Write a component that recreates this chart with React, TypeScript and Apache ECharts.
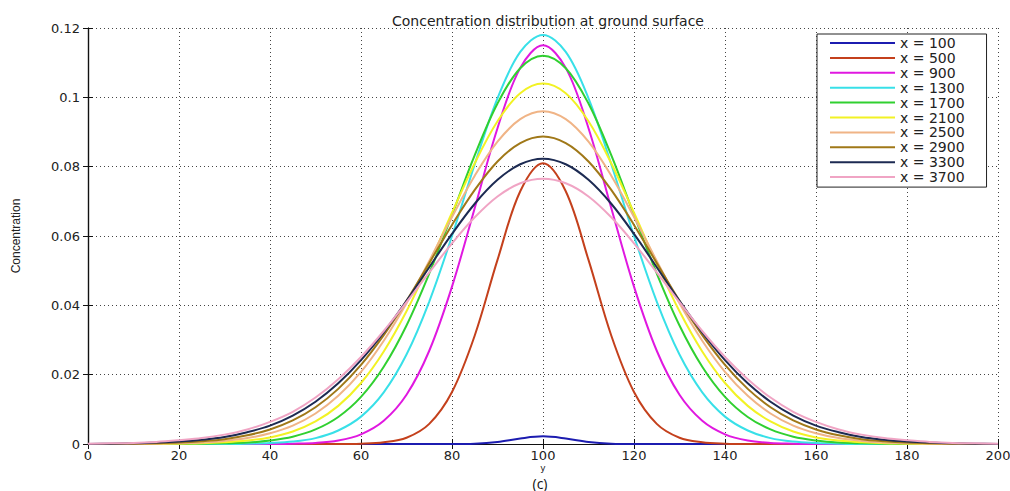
import React, { useEffect, useRef } from "react";
import * as echarts from "echarts";

const X_VALUES = [0,5,10,15,20,25,30,35,40,45,50,55,60,65,70,75,80,85,90,95,100,105,110,115,120,125,130,135,140,145,150,155,160,165,170,175,180,185,190,195,200];

const SERIES_NAMES = ["x = 100","x = 500","x = 900","x = 1300","x = 1700","x = 2100","x = 2500","x = 2900","x = 3300","x = 3700"];

const SERIES_COLORS = ["#1c1cb0","#c4401c","#e018e0","#38e0e8","#30d030","#f2f224","#f0b486","#a07818","#1c2a52","#f0a4c4"];

const C100 = [0,0,0,0,0,0,0,0,0,0,0,0,0,0,0,0,0,0.0001,0.0006,0.0016,0.0022,0.0016,0.0006,0.0001,0,0,0,0,0,0,0,0,0,0,0,0,0,0,0,0,0];
const C500 = [0,0,0,0,0,0,0,0,0,0,0,0,0.0001,0.0005,0.0018,0.0058,0.0150,0.0313,0.0531,0.0729,0.0810,0.0729,0.0531,0.0313,0.0150,0.0058,0.0018,0.0005,0.0001,0,0,0,0,0,0,0,0,0,0,0,0];
const C900 = [0,0,0,0,0,0,0,0,0,0.0001,0.0003,0.0010,0.0028,0.0067,0.0142,0.0269,0.0454,0.0681,0.0911,0.1085,0.1150,0.1085,0.0911,0.0681,0.0454,0.0269,0.0142,0.0067,0.0028,0.0010,0.0003,0.0001,0,0,0,0,0,0,0,0,0];
const C1300 = [0,0,0,0,0,0,0,0.0001,0.0003,0.0007,0.0017,0.0039,0.0079,0.0149,0.0258,0.0411,0.0600,0.0807,0.0997,0.1131,0.1180,0.1131,0.0997,0.0807,0.0600,0.0411,0.0258,0.0149,0.0079,0.0039,0.0017,0.0007,0.0003,0.0001,0,0,0,0,0,0,0];
const C1700 = [0,0,0,0,0,0.0001,0.0002,0.0004,0.0010,0.0021,0.0042,0.0078,0.0136,0.0223,0.0342,0.0492,0.0661,0.0833,0.0982,0.1084,0.1120,0.1084,0.0982,0.0833,0.0661,0.0492,0.0342,0.0223,0.0136,0.0078,0.0042,0.0021,0.0010,0.0004,0.0002,0.0001,0,0,0,0,0];
const C2100 = [0,0,0,0,0.0001,0.0002,0.0005,0.0010,0.0019,0.0036,0.0065,0.0110,0.0176,0.0267,0.0383,0.0520,0.0667,0.0810,0.0931,0.1012,0.1040,0.1012,0.0931,0.0810,0.0667,0.0520,0.0383,0.0267,0.0176,0.0110,0.0065,0.0036,0.0019,0.0010,0.0005,0.0002,0.0001,0,0,0,0];
const C2500 = [0,0,0,0.0001,0.0002,0.0004,0.0009,0.0017,0.0031,0.0053,0.0088,0.0139,0.0208,0.0298,0.0406,0.0528,0.0655,0.0774,0.0872,0.0937,0.0960,0.0937,0.0872,0.0774,0.0655,0.0528,0.0406,0.0298,0.0208,0.0139,0.0088,0.0053,0.0031,0.0017,0.0009,0.0004,0.0002,0.0001,0,0,0];
const C2900 = [0,0,0.0001,0.0002,0.0004,0.0008,0.0014,0.0025,0.0042,0.0068,0.0106,0.0159,0.0228,0.0314,0.0413,0.0522,0.0632,0.0733,0.0815,0.0868,0.0887,0.0868,0.0815,0.0733,0.0632,0.0522,0.0413,0.0314,0.0228,0.0159,0.0106,0.0068,0.0042,0.0025,0.0014,0.0008,0.0004,0.0002,0.0001,0,0];
const C3300 = [0,0.0001,0.0002,0.0004,0.0007,0.0012,0.0020,0.0034,0.0053,0.0082,0.0122,0.0175,0.0242,0.0322,0.0413,0.0510,0.0606,0.0693,0.0762,0.0807,0.0823,0.0807,0.0762,0.0693,0.0606,0.0510,0.0413,0.0322,0.0242,0.0175,0.0122,0.0082,0.0053,0.0034,0.0020,0.0012,0.0007,0.0004,0.0002,0.0001,0];
const C3700 = [0.0001,0.0002,0.0003,0.0006,0.0011,0.0017,0.0027,0.0042,0.0064,0.0093,0.0134,0.0187,0.0251,0.0326,0.0409,0.0495,0.0579,0.0654,0.0714,0.0752,0.0765,0.0752,0.0714,0.0654,0.0579,0.0495,0.0409,0.0326,0.0251,0.0187,0.0134,0.0093,0.0064,0.0042,0.0027,0.0017,0.0011,0.0006,0.0003,0.0002,0.0001];

const SERIES_VALUES = [C100, C500, C900, C1300, C1700, C2100, C2500, C2900, C3300, C3700];

const X_MIN = 0;
const X_MAX = 200;
const X_STEP = 20;
const Y_MIN = 0;
const Y_MAX = 0.12;
const Y_STEP = 0.02;

const FONT = "DejaVu Sans";

export default function App() {
  const ref = useRef<HTMLDivElement>(null);
  useEffect(() => {
    if (!ref.current) return;
    const chart = echarts.init(ref.current, null, { renderer: "svg" });
    const gridLine = { show: true, lineStyle: { type: [1, 3] as any, color: "#444", width: 1 } };
    const tick = { show: true, inside: true, length: 5, lineStyle: { color: "#111" } };
    const axisLine = { show: true, lineStyle: { color: "#111", width: 1.2 } };
    chart.setOption({
      animation: false,
      backgroundColor: "#ffffff",
      title: {
        text: "Concentration distribution at ground surface",
        left: 387,
        top: 9,
        textStyle: { fontFamily: FONT, fontSize: 14, fontWeight: "normal", color: "#222" },
      },
      grid: { left: 88, right: 12, top: 28, bottom: 47, outerBoundsMode: "none" } as any,
      legend: {
        orient: "vertical",
        left: 817,
        top: 34,
        data: SERIES_NAMES,
        icon: "rect",
        backgroundColor: "#ffffff",
        borderColor: "#222",
        borderWidth: 1,
        borderRadius: 0,
        padding: [2, 22, 3, 13],
        itemWidth: 65,
        itemHeight: 2,
        itemGap: 0.9,
        textStyle: { fontFamily: FONT, fontSize: 14, color: "#222", lineHeight: 14 },
      },
      xAxis: [
        {
          type: "value",
          min: X_MIN,
          max: X_MAX,
          interval: X_STEP,
          name: "y",
          nameLocation: "middle",
          nameGap: 19,
          nameMoveOverlap: false,
          nameTextStyle: { fontFamily: FONT, fontSize: 9, color: "#222", lineHeight: 9, padding: 0 },
          axisLine,
          axisTick: tick,
          axisLabel: { fontFamily: FONT, fontSize: 13, color: "#222", margin: 5 },
          splitLine: gridLine,
        },
        {
          type: "value",
          position: "top",
          min: X_MIN,
          max: X_MAX,
          interval: X_STEP,
          axisLine,
          axisTick: tick,
          axisLabel: { show: false },
          splitLine: { show: false },
        },
      ],
      yAxis: [
        {
          type: "value",
          min: Y_MIN,
          max: Y_MAX,
          interval: Y_STEP,
          name: "Concentration",
          nameLocation: "middle",
          nameGap: 66,
          nameMoveOverlap: false,
          nameRotate: 90,
          nameTextStyle: { fontFamily: "Liberation Sans Narrow, Liberation Sans", fontSize: 12, color: "#222" },
          axisLine,
          axisTick: tick,
          axisLabel: { fontFamily: FONT, fontSize: 13, color: "#222", margin: 8 },
          splitLine: gridLine,
        },
        {
          type: "value",
          position: "right",
          min: Y_MIN,
          max: Y_MAX,
          interval: Y_STEP,
          axisLine,
          axisTick: tick,
          axisLabel: { show: false },
          splitLine: { show: false },
        },
      ],
      graphic: [
        {
          type: "text",
          x: 540,
          y: 483,
          style: {
            text: "(c)",
            textAlign: "center",
            textVerticalAlign: "middle",
            fontFamily: "Open Sans",
            fontSize: 14,
            lineHeight: 14,
            fill: "#111",
          },
        },
      ],
      series: SERIES_NAMES.map((name, i) => ({
        name,
        type: "line",
        xAxisIndex: 0,
        yAxisIndex: 0,
        data: X_VALUES.map((x, j) => [x, SERIES_VALUES[i][j]]),
        symbol: "none",
        smooth: 0.35,
        lineStyle: { color: SERIES_COLORS[i], width: 2 },
        itemStyle: { color: SERIES_COLORS[i] },
      })),
    });
    return () => chart.dispose();
  }, []);
  return <div ref={ref} style={{ position: "fixed", left: 0, top: 0, width: 1010, height: 491 }} />;
}
